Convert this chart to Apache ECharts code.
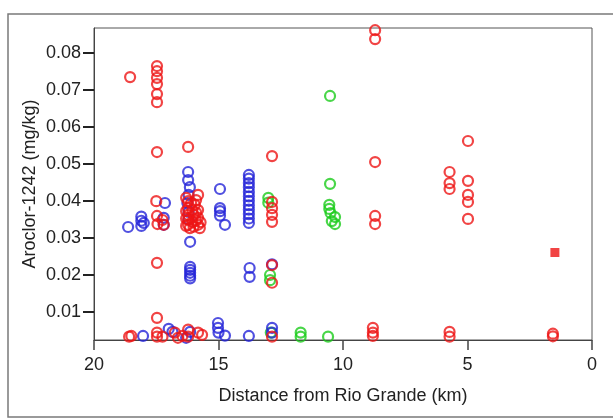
<!DOCTYPE html>
<html>
<head>
<meta charset="utf-8">
<script src="https://cdn.jsdelivr.net/npm/echarts@6/dist/echarts.min.js"></script>
<style>
  html, body { margin: 0; padding: 0; background: #fff; }
  #chart { width: 613px; height: 420px; }
</style>
</head>
<body>
<div id="chart"></div>
<script>
// tick labels
var xTicks = [0, 5, 10, 15, 20];
var yTicks = [0.01, 0.02, 0.03, 0.04, 0.05, 0.06, 0.07, 0.08];

// [distance km, Aroclor-1242 mg/kg]
var redPts = [
  [18.55, 0.0735],
  [17.47, 0.0765], [17.47, 0.0751], [17.47, 0.0733], [17.47, 0.0716], [17.47, 0.0689], [17.47, 0.0667],
  [17.47, 0.0532], [17.5, 0.0399], [17.47, 0.0359], [17.45, 0.0337], [17.25, 0.0348], [17.2, 0.0335], [17.47, 0.0232],
  [16.22, 0.0546],
  [15.82, 0.0416], [16.22, 0.0399], [16.1, 0.0394], [15.95, 0.0389], [16.22, 0.038], [16.05, 0.0375], [15.82, 0.0375],
  [16.22, 0.0362], [16.0, 0.0362], [15.82, 0.0354], [16.22, 0.0348], [16.05, 0.0343], [15.82, 0.0335], [16.22, 0.0335],
  [16.0, 0.033], [16.15, 0.0326], [15.75, 0.0326], [16.3, 0.0408], [16.3, 0.0372], [16.3, 0.0352], [16.3, 0.0332],
  [15.9, 0.0402], [15.9, 0.0368], [15.9, 0.0346], [15.72, 0.0342],
  [12.85, 0.0521], [12.85, 0.0397], [12.85, 0.038], [12.85, 0.0362], [12.85, 0.0343], [12.85, 0.0226], [12.85, 0.0178],
  [8.71, 0.0862], [8.71, 0.0838], [8.71, 0.0505], [8.71, 0.0359], [8.71, 0.0337],
  [5.72, 0.0478], [5.72, 0.0448], [5.72, 0.0432],
  [4.98, 0.0562], [4.98, 0.0454], [4.98, 0.0416], [4.98, 0.0397], [4.98, 0.0351],
  [18.59, 0.0032], [18.5, 0.0034], [17.47, 0.0083], [17.47, 0.0043], [17.47, 0.0032], [17.25, 0.0032],
  [16.75, 0.0043], [16.63, 0.0029], [16.22, 0.0051], [16.22, 0.0032], [15.82, 0.0043], [15.66, 0.0037], [16.45, 0.0034],
  [12.85, 0.0032], [8.8, 0.0056], [8.8, 0.0043], [8.8, 0.0034], [5.72, 0.0045], [5.72, 0.0032], [1.57, 0.004], [1.57, 0.0033]
];
var bluePts = [
  [18.63, 0.0329],
  [18.1, 0.0357], [18.1, 0.0346], [18.1, 0.0332], [18.0, 0.034],
  [17.15, 0.0394], [17.2, 0.0354], [17.2, 0.0335],
  [16.22, 0.0478], [16.22, 0.0456], [16.15, 0.0437], [16.2, 0.0416], [16.25, 0.0394], [16.2, 0.037], [16.2, 0.035], [16.14, 0.0289],
  [16.14, 0.0221], [16.14, 0.0213], [16.14, 0.0205], [16.14, 0.0197], [16.14, 0.019],
  [14.94, 0.0432], [14.94, 0.038], [14.94, 0.0372], [14.94, 0.036], [14.74, 0.0335],
  [13.78, 0.047], [13.78, 0.046], [13.78, 0.0448], [13.78, 0.0437], [13.78, 0.0424], [13.78, 0.0412], [13.78, 0.04],
  [13.78, 0.0388], [13.78, 0.0376], [13.78, 0.0364], [13.78, 0.0352], [13.78, 0.034],
  [13.75, 0.0218], [13.75, 0.0194],
  [12.85, 0.0228],
  [18.03, 0.0034], [17.0, 0.0053], [16.85, 0.0045], [16.3, 0.0029], [16.14, 0.0045],
  [15.02, 0.0069], [15.02, 0.0056], [15.0, 0.0043], [14.74, 0.0035], [13.78, 0.0034], [12.85, 0.0056], [12.85, 0.0043]
];
var greenPts = [
  [10.52, 0.0684], [10.52, 0.0446], [10.55, 0.0389], [10.55, 0.0378], [10.5, 0.0367], [10.32, 0.0356], [10.45, 0.0345], [10.32, 0.0337],
  [13.0, 0.0408], [13.0, 0.0395], [12.93, 0.0199], [12.93, 0.0185],
  [11.7, 0.0043], [11.7, 0.0032], [10.6, 0.0032], [12.9, 0.0043]
];
var squarePts = [[1.49, 0.026]];

var chart = echarts.init(document.getElementById('chart'));

function ring(name, data, color) {
  return {
    name: name,
    type: 'scatter',
    data: data,
    symbol: 'circle',
    symbolSize: 10,
    itemStyle: { color: 'rgba(255,255,255,0)', borderColor: color, borderWidth: 2.2 },
    emphasis: { disabled: true }
  };
}

var font = 'Liberation Sans, Arial, sans-serif';

var option = {
  backgroundColor: '#fff',
  animation: false,
  graphic: [{
    type: 'rect',
    shape: { x: 8, y: 14, width: 620, height: 403 },
    style: { fill: 'none', stroke: '#7a7a7a', lineWidth: 1.5 }
  }],
  grid: {
    left: 94, top: 28, right: 21, bottom: 80,
    show: true, borderColor: '#555', borderWidth: 1
  },
  xAxis: {
    type: 'value',
    inverse: true,
    min: 0, max: 20, interval: 5,
    name: 'Distance from Rio Grande (km)',
    nameLocation: 'middle',
    nameGap: 47,
    nameTextStyle: { fontFamily: font, fontSize: 18, color: '#222' },
    splitLine: { show: false },
    axisLine: { onZero: false, lineStyle: { color: '#444', width: 1 } },
    axisTick: { length: 10, lineStyle: { color: '#444', width: 1.5 } },
    axisLabel: { fontFamily: font, fontSize: 18, color: '#222', margin: 16,
      formatter: function (v) { return xTicks.indexOf(v) >= 0 ? String(v) : ''; } }
  },
  yAxis: {
    type: 'value',
    min: 0.0023, max: 0.0868,
    name: 'Aroclor-1242 (mg/kg)',
    nameLocation: 'middle',
    nameGap: 55,
    nameMoveOverlap: false,
    nameTextStyle: { fontFamily: font, fontSize: 18, color: '#222' },
    splitLine: { show: false },
    axisLine: { onZero: false, lineStyle: { color: '#444', width: 1 } },
    axisTick: { length: 11, customValues: yTicks, lineStyle: { color: '#222', width: 2 } },
    axisLabel: { fontFamily: font, fontSize: 18, color: '#222', margin: 13, customValues: yTicks,
      formatter: function (v) { return v.toFixed(2); } }
  },
  series: [
    ring('green', greenPts, '#1ccc1c'),
    ring('blue', bluePts, '#2424d8'),
    ring('red', redPts, '#ee1515'),
    {
      name: 'square',
      type: 'scatter',
      data: squarePts,
      symbol: 'rect',
      symbolSize: 9,
      itemStyle: { color: '#ee1515' },
      emphasis: { disabled: true }
    }
  ]
};

chart.setOption(option);
</script>
</body>
</html>
